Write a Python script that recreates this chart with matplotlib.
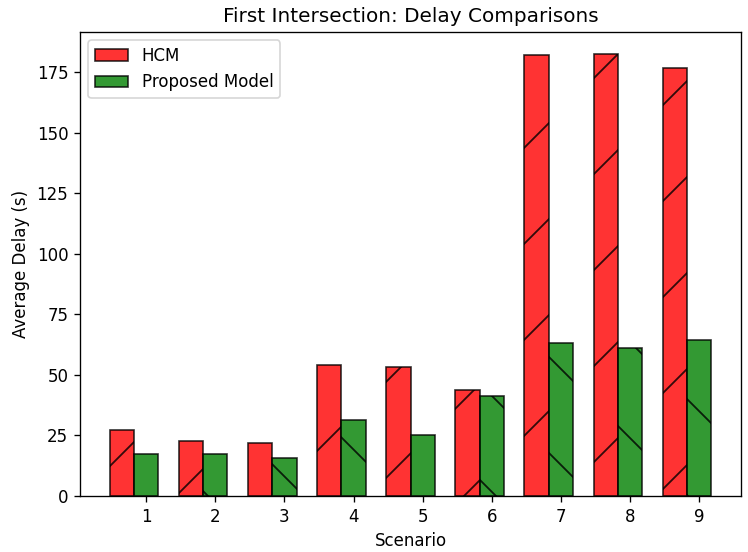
import matplotlib
matplotlib.use("Agg")
import matplotlib.pyplot as plt
import numpy as np

scenarios = [1, 2, 3, 4, 5, 6, 7, 8, 9]
hcm = [27.2, 22.8, 21.7, 54.1, 53.2, 43.9, 182.0, 182.4, 176.6]
proposed = [17.5, 17.5, 15.5, 31.5, 25.3, 41.3, 63.3, 61.2, 64.3]

# Render at a high dpi with scaled point sizes so the hatch is sparser
W, H, DPI = 748, 552, 288
k = 120 / DPI
plt.rcParams.update({
    'font.size': 10 * k,
    'axes.linewidth': 0.8 * k,
    'xtick.major.size': 3.5 * k,
    'ytick.major.size': 3.5 * k,
    'xtick.major.width': 0.8 * k,
    'ytick.major.width': 0.8 * k,
    'xtick.major.pad': 3.5 * k,
    'ytick.major.pad': 3.5 * k,
    'patch.linewidth': 1.0 * k,
    'hatch.linewidth': 1.1 * k,
    'axes.labelpad': 4.0 * k,
    'axes.titlepad': 6.0 * k,
    'lines.linewidth': 1.5 * k,
})

fig = plt.figure(figsize=(W / DPI, H / DPI), dpi=DPI)
ax = fig.add_axes([80 / W, 56 / H, 661 / W, 464 / H])

x = np.array(scenarios)
w = 0.35
ax.bar(x - w, hcm, w, color='red', alpha=0.8, edgecolor='black',
       hatch='/', label='HCM')
ax.bar(x, proposed, w, color='green', alpha=0.8, edgecolor='black',
       hatch='\\', label='Proposed Model')

ax.set_xticks(x)
ax.set_xticklabels([str(s) for s in scenarios])
ax.set_xlabel('Scenario')
ax.set_ylabel('Average Delay (s)')
ax.set_title('First Intersection: Delay Comparisons')
ax.legend(loc='upper left')

fig.savefig('out.png', dpi=DPI)
